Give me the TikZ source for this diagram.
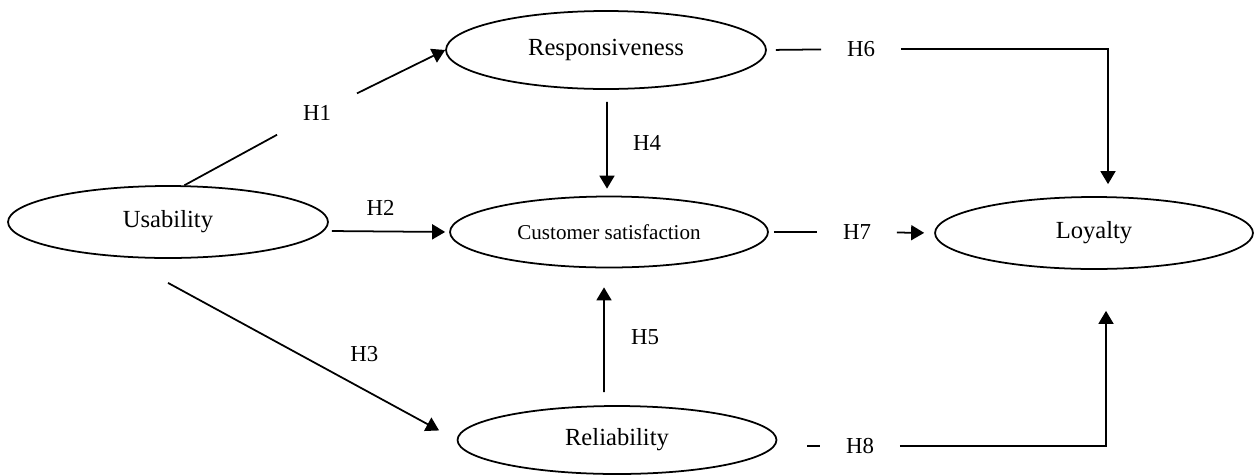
\documentclass[tikz,border=0pt]{standalone}
\usepackage{fontspec}
\setmainfont{Liberation Serif}
\usetikzlibrary{arrows.meta, shapes.geometric}

\begin{document}
\begin{tikzpicture} [x = 0.02cm, y = -0.02cm, line width = 1pt,
  var/.style = {draw, ellipse, inner sep = 0pt, minimum width = 6.4cm, minimum height = 1.5cm, font = \fontsize{14}{16}\selectfont},
  hyp/.style = {font = \fontsize{13}{15}\selectfont},
  hgap/.style = {hyp, inner sep = 0.15cm, outer sep = 0.37cm},
  arr/.style = {-{Triangle[length = 0.26cm, width = 0.3cm]}}]
\useasboundingbox (0,0) rectangle (1257,474);
\node[var, minimum height = 1.56cm](re) at (606,50){Responsiveness};
\node[var, minimum height = 1.44cm](us) at (168,222){Usability};
\node[var, minimum width = 6.36cm, minimum height = 1.42cm, font = \fontsize{12}{14}\selectfont](cs) at (609,232){Customer satisfaction};
\node[var, minimum width = 6.36cm, minimum height = 1.44cm](lo) at (1094,233){Loyalty};
\node[var, minimum width = 6.38cm, minimum height = 1.36cm](rb) at (617,440){Reliability};
\node[hgap](h1) at (317,113){H1};
\node[hgap](h6) at (861,49){H6};
\node[hgap](h7) at (857,232){H7};
\node[hgap](h8) at (860,446){H8};
\draw (us.66) -- (h1);
\draw [arr] (h1) -- (re.west);
\draw [arr, shorten <=0.06cm, shorten >=0.08cm] ([yshift=-0.18cm]us.east) -- node[hyp, above=0.19cm, pos=.43]{H2} (cs.west);
\draw [arr, shorten >=0.4cm] ([yshift=-0.48cm]us.south) -- node[hyp, above=0.42cm, pos=.68]{H3} (rb.west);
\draw [arr, shorten <=0.24cm, shorten >=0.14cm] ([xshift=0.02cm]re.south) -- node[hyp, right=0.39cm]{H4} ([xshift=-0.04cm]cs.north);
\draw [arr, shorten <=0.26cm, shorten >=0.38cm] ([xshift=-0.26cm]rb.north) -- node[hyp, right=0.41cm]{H5} ([xshift=-0.1cm]cs.south);
\draw [shorten <=0.18cm] (re.east) -- (h6);
\draw [arr, shorten >=0.24cm] (h6) -| ([xshift=0.28cm]lo.north);
\draw [shorten <=0.1cm] (cs.east) -- (h7);
\draw [arr, shorten >=0.2cm] (h7) -- (lo.west);
\draw [shorten <=0.6cm] (rb.east |- h8) -- (h8);
\draw [arr, shorten >=0.82cm] (h8) -| ([xshift=0.24cm]lo.south);
\end{tikzpicture}
\end{document}
